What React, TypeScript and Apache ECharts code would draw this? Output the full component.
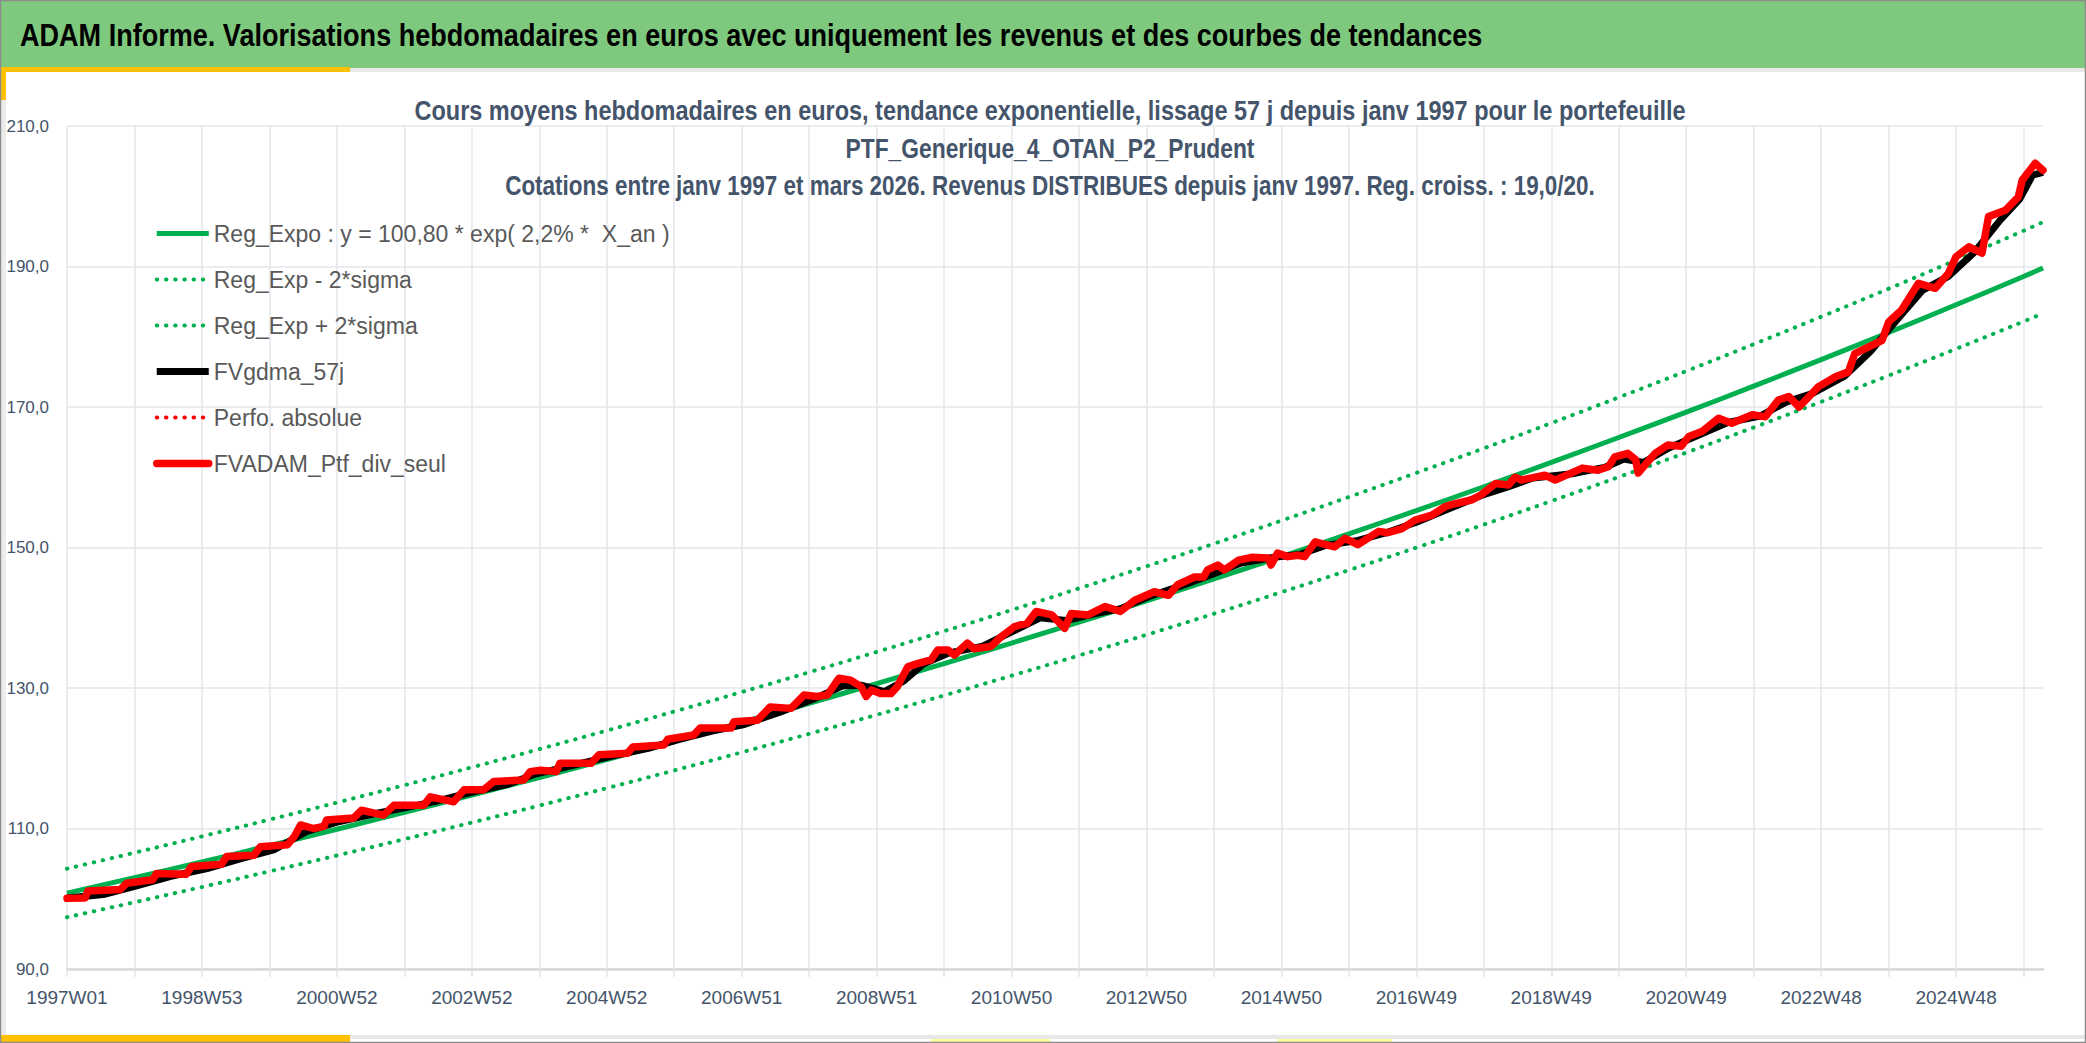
import React, { useEffect, useRef } from 'react';
import * as echarts from 'echarts';

const FONT = "'Liberation Sans', Arial, sans-serif";

// one category per ISO week, 1997W01 -> 2026W11
const weekCount = 1524;
const tickLabels = [
  '1997W01', '1998W53', '2000W52', '2002W52', '2004W52', '2006W51', '2008W51', '2010W50',
  '2012W50', '2014W50', '2016W49', '2018W49', '2020W49', '2022W48', '2024W48',
];

const seriesNames = [
  'Reg_Expo : y = 100,80 * exp( 2,2% *  X_an )',
  'Reg_Exp - 2*sigma',
  'Reg_Exp + 2*sigma',
  'FVgdma_57j',
  'Perfo. absolue',
  'FVADAM_Ptf_div_seul',
];

// trend curves, read once a year (every 52 weeks) + last week
const trendWeeks = [
  0, 52, 104, 156, 208, 260, 312, 364, 416, 468, 520, 572, 624, 676, 728, 780,
  832, 884, 936, 988, 1040, 1092, 1144, 1196, 1248, 1300, 1352, 1404, 1456, 1508, 1523,
];
const trendValues = [
  100.8, 103.0, 105.25, 107.55, 109.9, 112.3, 114.75, 117.25, 119.81, 122.43, 125.1,
  127.83, 130.62, 133.48, 136.39, 139.37, 142.41, 145.52, 148.7, 151.95, 155.26, 158.65,
  162.12, 165.66, 169.27, 172.97, 176.75, 180.61, 184.55, 188.58, 189.78,
];
const lowerValues = [
  97.37, 99.5, 101.67, 103.89, 106.16, 108.48, 110.85, 113.26, 115.74, 118.27, 120.85,
  123.48, 126.18, 128.94, 131.75, 134.63, 137.57, 140.57, 143.64, 146.78, 149.98, 153.26,
  156.61, 160.03, 163.51, 167.09, 170.74, 174.47, 178.28, 182.17, 183.33,
];
const upperValues = [
  104.28, 106.55, 108.88, 111.26, 113.69, 116.17, 118.71, 121.3, 123.94, 126.65, 129.42,
  132.24, 135.13, 138.09, 141.1, 144.18, 147.32, 150.54, 153.83, 157.19, 160.62, 164.12,
  167.71, 171.37, 175.11, 178.94, 182.85, 186.84, 190.92, 195.09, 196.33,
];

// portfolio valuation (red)
const ptfWeeks = [
  0, 14, 16, 41, 46, 66, 69, 92, 96, 119, 123, 144, 149, 170, 175, 180, 190, 198, 200, 221,
  227, 237, 244, 252, 275, 280, 290, 298, 306, 321, 329, 352, 357, 365, 377, 380, 404, 410,
  432, 436, 460, 463, 483, 488, 512, 514, 532, 542, 558, 568, 578, 586, 595, 604, 612, 616,
  620, 627, 635, 640, 648, 656, 666, 671, 679, 684, 694, 699, 712, 720, 730, 735, 740, 747,
  759, 769, 774, 787, 800, 812, 823, 838, 849, 856, 869, 876, 879, 887, 892, 903, 913, 926,
  928, 933, 941, 949, 954, 962, 977, 985, 995, 1011, 1018, 1029, 1039, 1052, 1062, 1067,
  1083, 1090, 1101, 1111, 1116, 1121, 1139, 1147, 1168, 1180, 1188, 1193, 1203, 1209, 1211,
  1224, 1234, 1244, 1250, 1260, 1273, 1283, 1299, 1309, 1319, 1327, 1335, 1350, 1363, 1373,
  1378, 1399, 1404, 1414, 1427, 1440, 1450, 1456, 1466, 1476, 1481, 1494, 1504, 1507, 1517,
  1523,
];
const ptfValues = [
  100.06, 100.1, 101.1, 101.3, 102.2, 102.7, 103.6, 103.5, 104.6, 104.9, 106.0, 106.2, 107.4,
  107.7, 108.8, 110.5, 110.0, 110.3, 111.2, 111.5, 112.6, 112.2, 111.9, 113.3, 113.3, 114.5,
  114.1, 113.8, 115.5, 115.5, 116.7, 116.9, 118.1, 118.3, 118.1, 119.3, 119.3, 120.5, 120.7,
  121.6, 121.9, 122.7, 123.3, 124.3, 124.3, 125.2, 125.4, 127.3, 127.1, 129.0, 128.8, 129.0,
  131.4, 131.1, 130.2, 128.8, 129.7, 129.2, 129.2, 130.2, 133.0, 133.5, 134.0, 135.4, 135.4,
  134.7, 136.4, 135.6, 135.9, 137.3, 138.7, 139.0, 139.2, 140.9, 140.4, 138.5, 140.6, 140.4,
  141.6, 140.9, 142.5, 143.7, 143.2, 144.7, 145.8, 145.8, 146.8, 147.5, 146.8, 148.2, 148.6,
  148.5, 147.5, 149.2, 148.7, 148.9, 148.7, 150.8, 150.1, 151.3, 150.4, 152.3, 152.1, 152.7,
  153.9, 154.6, 155.8, 156.1, 156.8, 157.5, 159.1, 158.9, 160.0, 159.6, 160.3, 159.6, 161.3,
  161.0, 161.5, 162.9, 163.4, 162.5, 160.6, 163.4, 164.6, 164.4, 165.8, 166.5, 168.4, 167.7,
  168.9, 168.6, 171.0, 171.5, 170.0, 172.9, 174.3, 175.0, 177.6, 179.5, 182.1, 183.8, 187.6,
  186.9, 189.0, 191.4, 192.8, 191.9, 197.1, 198.0, 199.9, 202.3, 204.7, 203.7,
];

// 57-day smoothing (black)
const smoothWeeks = [
  0, 28, 55, 80, 108, 134, 160, 185, 210, 240, 262, 285, 300, 315, 340, 360, 390, 420, 448,
  472, 498, 522, 550, 575, 598, 612, 630, 645, 660, 680, 705, 725, 750, 770, 790, 812, 835,
  858, 880, 905, 930, 950, 970, 995, 1015, 1040, 1065, 1090, 1110, 1130, 1160, 1185, 1200,
  1215, 1235, 1255, 1280, 1305, 1325, 1345, 1370, 1390, 1410, 1430, 1450, 1470, 1490, 1505,
  1515, 1523,
];
const smoothValues = [
  100.1, 100.6, 101.9, 103.2, 104.3, 105.7, 107.0, 109.6, 111.0, 112.2, 113.0, 113.9, 114.6,
  115.3, 116.3, 117.7, 119.0, 120.3, 121.4, 122.7, 123.9, 124.8, 126.6, 128.4, 130.3, 130.4,
  129.5, 131.0, 133.4, 135.0, 135.9, 137.7, 140.0, 139.6, 140.5, 141.3, 143.1, 144.5, 146.0,
  147.8, 148.6, 149.0, 150.3, 151.0, 152.0, 153.6, 155.5, 157.4, 158.6, 159.9, 160.5, 161.4,
  162.6, 162.1, 164.2, 165.8, 167.8, 168.7, 170.7, 171.9, 174.4, 177.9, 182.3, 186.6, 188.6,
  192.0, 196.6, 199.6, 203.0, 203.4,
];

const pairs = (xs: number[], ys: number[]) => xs.map((x, i) => [x, ys[i]]);
const categories = Array.from({ length: weekCount }, (_, i) => String(i));

const GREEN = '#00b050';
const dots = [0.5, 8.7];

// centred header line, squeezed horizontally like the narrow original font
const headerLine = (text: string, y: number, scaleX: number) => ({
  type: 'text', z: 10, x: 1050, y, scaleX,
  style: {
    text, fill: '#44546a', font: `bold 27px ${FONT}`,
    textAlign: 'center', textVerticalAlign: 'middle',
  },
});

const App: React.FC = () => {
  const chartRef = useRef<HTMLDivElement>(null);

  useEffect(() => {
    if (!chartRef.current) return;
    const chart = echarts.init(chartRef.current, undefined, { renderer: 'svg' });

    chart.setOption({
      animation: false,
      backgroundColor: '#ffffff',
      graphic: [
        { type: 'rect', z: 0, shape: { x: 0, y: 0, width: 2086, height: 68 }, style: { fill: '#7ec97e' } },
        { type: 'rect', z: 0, shape: { x: 350, y: 68, width: 1736, height: 4 }, style: { fill: '#e8e8e8' } },
        { type: 'rect', z: 0, shape: { x: 0, y: 67, width: 350, height: 5 }, style: { fill: '#ffc000' } },
        { type: 'rect', z: 0, shape: { x: 0, y: 67, width: 6, height: 33 }, style: { fill: '#ffc000' } },
        { type: 'rect', z: 0, shape: { x: 0, y: 100, width: 6, height: 935 }, style: { fill: '#ececec' } },
        { type: 'rect', z: 0, shape: { x: 350, y: 1035, width: 1736, height: 4 }, style: { fill: '#e8e8e8' } },
        { type: 'rect', z: 0, shape: { x: 0, y: 1035, width: 350, height: 8 }, style: { fill: '#ffc000' } },
        { type: 'rect', z: 0, shape: { x: 931, y: 1039, width: 119, height: 4 }, style: { fill: '#ffff99' } },
        { type: 'rect', z: 0, shape: { x: 1277, y: 1039, width: 115, height: 4 }, style: { fill: '#ffff99' } },
        {
          type: 'rect', z: 10, silent: true,
          shape: { x: 0.5, y: 0.5, width: 2085, height: 1042 },
          style: { fill: 'none', stroke: '#8c8c8c', lineWidth: 1.5 },
        },
        {
          type: 'text', z: 10, x: 20, y: 35, scaleX: 0.873,
          style: {
            text: 'ADAM Informe. Valorisations hebdomadaires en euros avec uniquement les revenus et des courbes de tendances',
            fill: '#000000', font: `bold 31px ${FONT}`, textVerticalAlign: 'middle',
          },
        },
        headerLine('Cours moyens hebdomadaires en euros, tendance exponentielle, lissage 57 j depuis janv 1997 pour le portefeuille', 110, 0.87),
        headerLine('PTF_Generique_4_OTAN_P2_Prudent', 148, 0.845),
        headerLine('Cotations entre janv 1997 et mars 2026. Revenus DISTRIBUES depuis janv 1997. Reg. croiss. : 19,0/20.', 186, 0.832),
      ],
      legend: {
        orient: 'vertical',
        left: 148,
        top: 217,
        itemWidth: 52,
        itemHeight: 18,
        itemGap: 23,
        data: seriesNames,
        textStyle: { fontSize: 23, color: '#595959', fontFamily: FONT },
        lineStyle: { width: 'inherit' },
        itemStyle: { opacity: 0 },
      },
      grid: { left: 67, right: 43, top: 126, bottom: 74 },
      xAxis: {
        type: 'category',
        boundaryGap: false,
        data: categories,
        axisLine: { lineStyle: { color: '#d9d9d9', width: 2.5 } },
        axisTick: {
          show: true,
          interval: (i: number) => i % 52 === 0,
          length: 8,
          lineStyle: { color: '#e0e3e8', width: 1.5 },
        },
        splitLine: {
          show: true,
          interval: (i: number) => i % 52 === 0,
          lineStyle: { color: '#e3e6ea', width: 1.5 },
        },
        axisLabel: {
          interval: (i: number) => i % 104 === 0,
          formatter: (_v: string, i: number) => tickLabels[i / 104] ?? '',
          color: '#44546a',
          fontSize: 19,
          fontFamily: FONT,
          margin: 19,
        },
      },
      yAxis: {
        type: 'value',
        min: 90,
        max: 210,
        interval: 20,
        axisLine: { show: false },
        axisTick: { show: false },
        splitLine: { lineStyle: { color: '#e3e6ea', width: 1.5 } },
        axisLabel: {
          formatter: (v: number) => v.toFixed(1).replace('.', ','),
          color: '#44546a',
          fontSize: 17,
          fontFamily: FONT,
          margin: 18,
        },
      },
      series: [
        {
          name: seriesNames[0], type: 'line', symbol: 'none', smooth: true,
          data: pairs(trendWeeks, trendValues),
          lineStyle: { color: GREEN, width: 5 },
          itemStyle: { color: GREEN },
        },
        {
          name: seriesNames[1], type: 'line', symbol: 'none', smooth: true,
          data: pairs(trendWeeks, lowerValues),
          lineStyle: { color: GREEN, width: 4, type: dots, cap: 'round' },
          itemStyle: { color: GREEN },
        },
        {
          name: seriesNames[2], type: 'line', symbol: 'none', smooth: true,
          data: pairs(trendWeeks, upperValues),
          lineStyle: { color: GREEN, width: 4, type: dots, cap: 'round' },
          itemStyle: { color: GREEN },
        },
        {
          name: seriesNames[3], type: 'line', symbol: 'none',
          data: pairs(smoothWeeks, smoothValues),
          lineStyle: { color: '#000000', width: 7, join: 'round' },
          itemStyle: { color: '#000000' },
        },
        {
          name: seriesNames[4], type: 'line', symbol: 'none',
          data: pairs(ptfWeeks, ptfValues),
          lineStyle: { color: '#ff0000', width: 4, type: dots, cap: 'round' },
          itemStyle: { color: '#ff0000' },
        },
        {
          name: seriesNames[5], type: 'line', symbol: 'none',
          data: pairs(ptfWeeks, ptfValues),
          lineStyle: { color: '#ff0000', width: 7.5, join: 'round', cap: 'round' },
          itemStyle: { color: '#ff0000' },
        },
      ],
    });

    return () => {
      chart.dispose();
    };
  }, []);

  return (
    <div
      ref={chartRef}
      style={{ position: 'fixed', left: 0, top: 0, width: 2086, height: 1043 }}
    />
  );
};

export default App;
